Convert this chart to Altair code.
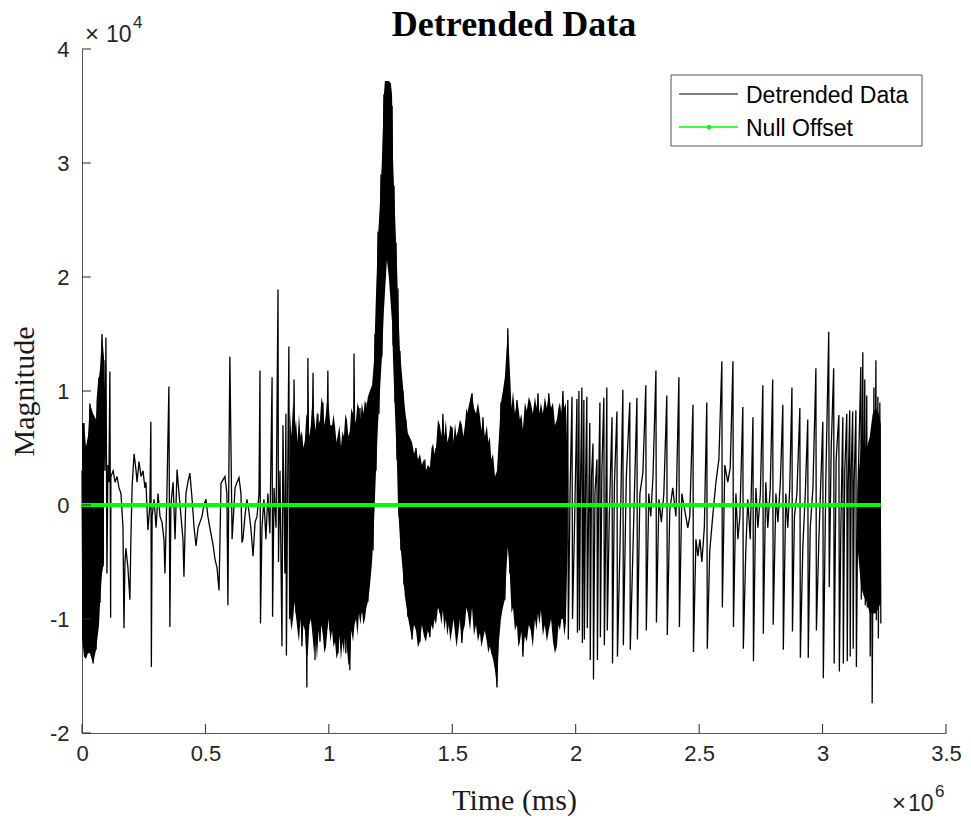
import altair as alt
import pandas as pd

# ---------------- data (time in units of 1e6 ms, magnitude in units of 1e4) ----------------
trace_seg1 = [
    [0.000, 0.3], [0.004, -1.16], [0.008, 0.72], [0.012, -1.33], [0.016, 0.51], [0.024, -1.2],
    [0.032, 0.89], [0.036, -1.3], [0.041, 0.8], [0.045, -1.39], [0.053, 0.7], [0.057, -1.27],
    [0.061, 0.9], [0.069, 1.12], [0.073, -0.86], [0.081, 1.5], [0.085, -0.54], [0.089, 1.27],
    [0.093, 0.3], [0.097, 1.47], [0.101, -0.6], [0.105, 0.35], [0.109, 0.2], [0.113, 1.17],
    [0.116, -0.99], [0.117, 0.25], [0.126, 0.3], [0.134, 0.2], [0.142, 0.25], [0.150, 0.15],
    [0.158, 0.1], [0.166, -0.2], [0.170, -1.08], [0.174, -0.5], [0.178, -0.38], [0.186, -0.55],
    [0.194, -0.83], [0.198, -0.3], [0.203, 0.16], [0.211, 0.45], [0.219, 0.3], [0.223, 0.2],
    [0.231, 0.38], [0.239, 0.25], [0.247, 0.3], [0.255, 0.15], [0.259, 0.2], [0.267, -0.22],
    [0.275, 0.0], [0.279, 0.73], [0.281, -1.42], [0.284, -0.1], [0.292, 0.05], [0.300, -0.2],
    [0.308, 0.1], [0.316, -0.1], [0.324, -0.15], [0.332, -0.3], [0.336, -0.6], [0.344, 0.1],
    [0.352, 1.04], [0.356, -1.07], [0.360, 0.0], [0.369, 0.2], [0.377, -0.3], [0.385, 0.31],
    [0.393, 0.1], [0.401, -0.1], [0.409, -0.3], [0.413, -0.63], [0.421, 0.1], [0.429, 0.2],
    [0.437, 0.28], [0.446, 0.05], [0.454, -0.2], [0.462, -0.36], [0.470, -0.2], [0.478, -0.15],
    [0.486, -0.1], [0.494, 0.0], [0.502, 0.05], [0.510, -0.1], [0.518, -0.2], [0.531, -0.35],
    [0.539, -0.48], [0.547, -0.55], [0.555, -0.75], [0.559, -0.3], [0.563, 0.19], [0.571, 0.22],
    [0.579, 0.25], [0.587, 0.1], [0.591, -0.88], [0.595, 0.3], [0.599, 1.3], [0.603, 0.6],
    [0.608, -0.3], [0.616, 0.0], [0.620, 0.15], [0.628, 0.2], [0.636, 0.24], [0.644, 0.1],
    [0.648, -0.33], [0.652, -0.3], [0.660, -0.1], [0.668, 0.05], [0.676, -0.05], [0.684, -0.2],
    [0.693, -0.45], [0.701, -0.15], [0.709, -0.1], [0.717, 0.1], [0.721, 1.18], [0.723, -1.04],
    [0.729, -0.2], [0.737, 0.05], [0.745, -0.3], [0.753, 0.1], [0.761, -0.25], [0.770, 1.12],
    [0.772, -0.98], [0.778, 0.15], [0.786, -0.2], [0.794, 1.89], [0.796, -0.5], [0.802, 0.3],
    [0.810, -1.24], [0.814, 0.7], [0.822, -0.6], [0.826, 0.8], [0.828, -1.32], [0.834, 0.4],
    [0.838, 1.39], [0.841, -1.0],
]

trace_seg2 = [
    [0.847, 0.6], [0.851, -0.9], [0.859, 1.1], [0.867, -0.95], [0.883, 0.6], [0.891, -1.24],
    [0.903, 0.5], [0.911, -1.6], [0.915, 1.29], [0.923, -1.0], [0.936, 1.16], [0.944, -1.36],
    [0.956, 0.8], [0.964, -1.2], [0.976, 0.9], [0.984, -1.25], [0.996, 1.18], [1.004, -1.1],
    [1.021, 0.6], [1.037, -1.3], [1.053, 0.5], [1.069, -1.3], [1.077, 0.6], [1.085, -1.45],
    [1.094, 0.8], [1.098, -0.5], [1.102, 1.33], [1.110, -1.0], [1.126, 0.85], [1.134, -0.95],
    [1.150, 0.9], [1.158, -0.85], [1.175, 1.0], [1.179, -0.4], [1.187, 1.5], [1.191, 0.3],
    [1.199, 2.4], [1.203, 0.8], [1.211, 2.9], [1.215, 1.3], [1.223, 3.6], [1.227, 2.0],
    [1.231, 3.72], [1.235, 2.3], [1.239, 3.72], [1.243, 2.1], [1.247, 3.7], [1.251, 2.0],
    [1.256, 3.5], [1.260, 1.4], [1.264, 2.8], [1.268, 0.9], [1.272, 2.3], [1.276, 0.4],
    [1.280, 1.9], [1.284, -0.1], [1.288, 1.35], [1.292, -0.4], [1.300, 1.0], [1.304, -0.7],
    [1.312, 0.75], [1.320, -0.98], [1.328, 0.55], [1.337, -1.18], [1.353, 0.5], [1.369, -1.2],
    [1.389, 0.4], [1.409, -1.16], [1.434, 0.5], [1.450, -0.95], [1.462, 0.8], [1.474, -1.0],
    [1.499, 0.68], [1.539, -1.21], [1.563, 0.8], [1.580, 0.98], [1.596, -1.05], [1.624, 0.77],
    [1.652, -1.24], [1.673, 0.25], [1.681, -1.6], [1.697, 0.9], [1.713, -0.83], [1.725, 1.55],
    [1.733, -0.6], [1.762, 0.92], [1.786, -1.33], [1.802, 0.83], [1.835, -1.0], [1.847, 0.98],
    [1.875, -1.05], [1.891, 0.98], [1.916, -1.24], [1.948, 1.0], [1.956, -1.04], [1.964, 0.3],
]

trace_seg3 = [
    [1.968, 0.92], [1.970, -1.18], [1.977, 0.1], [1.985, 0.95], [1.987, -1.0], [1.995, -0.2],
    [2.005, 0.93], [2.007, -1.12], [2.011, 0.2], [2.013, 1.0], [2.015, -1.1], [2.019, 0.1],
    [2.025, 1.03], [2.027, -1.21], [2.030, -0.2], [2.033, 0.92], [2.035, -1.18], [2.040, 0.2],
    [2.045, 0.95], [2.047, -1.08], [2.052, -0.1], [2.057, 0.72], [2.059, -1.36], [2.064, 0.25],
    [2.070, 0.54], [2.072, -1.53], [2.078, 0.1], [2.086, 0.4], [2.088, -1.36], [2.093, 0.2],
    [2.098, 0.9], [2.100, -1.16], [2.106, 0.3], [2.114, 0.94], [2.116, -1.23], [2.121, -0.3],
    [2.126, 1.03], [2.128, -1.1], [2.136, -0.1], [2.147, 0.77], [2.149, -1.39], [2.157, 0.2],
    [2.167, 0.82], [2.169, -1.33], [2.179, -0.4], [2.191, 1.01], [2.193, -1.23], [2.205, 0.25],
    [2.219, 0.9], [2.221, -1.27], [2.233, -0.3], [2.248, 0.94], [2.250, -1.18], [2.260, 0.1],
    [2.272, 0.28], [2.284, 1.05], [2.286, -1.1], [2.296, 0.1], [2.304, -0.1], [2.313, 0.25],
    [2.325, 1.18], [2.327, -1.03], [2.337, 0.05], [2.347, -0.15], [2.357, 0.1], [2.369, 0.96],
    [2.371, -1.14], [2.381, -0.05], [2.393, 0.15], [2.406, -0.1], [2.418, 1.12], [2.420, -1.07],
    [2.430, 0.1], [2.442, -0.05], [2.454, -0.2], [2.462, -0.1], [2.475, 0.88], [2.477, -1.29],
    [2.487, -0.3], [2.495, -0.45], [2.503, -0.3], [2.511, -0.5], [2.521, -0.2], [2.531, 0.9],
    [2.533, -1.26], [2.543, -0.4], [2.555, -0.1], [2.568, 0.2], [2.580, 0.4], [2.592, 1.26],
    [2.594, -0.9], [2.604, 0.35], [2.616, 0.2], [2.626, 0.33], [2.637, 1.26], [2.639, -1.07],
    [2.649, 0.1], [2.657, -0.3], [2.665, -0.1], [2.677, 0.86], [2.679, -1.26], [2.689, -0.4],
    [2.697, 0.05], [2.707, -0.3], [2.718, 0.77], [2.720, -1.37], [2.730, 0.15], [2.738, -0.2],
    [2.748, 0.1], [2.758, 1.05], [2.760, -1.13], [2.770, 0.2], [2.778, -0.2], [2.788, 0.15],
    [2.798, 1.1], [2.800, -1.05], [2.811, 0.1], [2.819, -0.15], [2.829, 0.2], [2.839, 0.88],
    [2.841, -1.27], [2.851, 0.1], [2.859, -0.2], [2.867, 0.15], [2.876, 1.03], [2.878, -1.11],
    [2.886, -0.1], [2.896, 0.1], [2.908, 0.85], [2.910, -1.34], [2.920, -0.37], [2.930, 0.1],
    [2.940, 0.75], [2.942, -1.34], [2.950, -0.2], [2.961, 0.15], [2.973, 1.2], [2.975, -1.1],
    [2.985, -0.3], [3.001, 0.73], [3.003, -1.52], [3.013, 0.2], [3.025, 1.52], [3.027, -0.72],
    [3.035, 0.5], [3.045, 1.2], [3.047, -1.39], [3.055, 0.4], [3.066, 0.79], [3.068, -1.46],
    [3.074, -0.2], [3.082, 0.77], [3.084, -1.39], [3.090, 0.3], [3.098, 0.8], [3.100, -1.37],
    [3.104, 0.2], [3.110, 0.83], [3.112, -1.33], [3.116, 0.3], [3.122, 0.82], [3.124, -1.26],
    [3.128, 0.2], [3.135, 0.83], [3.137, -1.42], [3.143, 0.1], [3.155, 1.21], [3.157, -0.83],
    [3.163, 1.34], [3.165, -0.77], [3.171, 1.1], [3.173, -0.88], [3.179, 0.96], [3.181, -0.9],
    [3.191, 0.3], [3.193, -1.33], [3.199, 0.5], [3.201, -1.74], [3.208, 1.03], [3.210, -0.95],
    [3.216, 1.27], [3.218, -1.01], [3.224, 0.95], [3.226, -1.17], [3.232, 0.9], [3.236, -1.04],
]

# dense oscillation envelopes: [time, upper, lower]
band_start = [
    [0.000, 0.72, -1.16], [0.008, 0.72, -1.33], [0.016, 0.51, -1.35], [0.024, 0.6, -1.3],
    [0.032, 0.89, -1.3], [0.045, 0.8, -1.39], [0.057, 0.75, -1.27], [0.069, 1.12, -1.05],
    [0.073, 1.2, -0.86], [0.081, 1.5, -0.6], [0.089, 1.3, -0.5],
]
band_middle = [
    [0.842, 0.85, -0.95], [0.848, 0.6, -1.1], [0.855, 0.9, -1.0], [0.861, 0.65, -0.85],
    [0.867, 0.75, -0.98], [0.873, 0.55, -1.1], [0.879, 0.8, -1.2], [0.885, 0.6, -1.0],
    [0.891, 0.65, -1.24], [0.897, 0.5, -1.05], [0.903, 0.57, -1.1], [0.909, 0.8, -1.35],
    [0.915, 0.75, -1.3], [0.921, 0.6, -1.05], [0.927, 0.7, -1.0], [0.934, 0.95, -1.15],
    [0.940, 0.8, -1.3], [0.946, 0.65, -1.15], [0.952, 0.83, -1.36], [0.958, 0.7, -1.1],
    [0.964, 0.75, -1.2], [0.970, 0.95, -1.05], [0.976, 0.88, -1.15], [0.982, 0.7, -1.3],
    [0.988, 0.8, -1.25], [0.994, 0.95, -1.1], [1.000, 0.85, -1.0], [1.006, 0.7, -1.2],
    [1.013, 0.7, -1.1], [1.019, 0.8, -1.25], [1.025, 0.69, -1.2], [1.031, 0.55, -1.35],
    [1.037, 0.62, -1.3], [1.043, 0.7, -1.15], [1.049, 0.51, -1.36], [1.055, 0.65, -1.2],
    [1.061, 0.6, -1.3], [1.067, 0.8, -1.1], [1.073, 0.75, -1.25], [1.079, 0.6, -1.4],
    [1.085, 0.65, -1.4], [1.091, 0.85, -1.1], [1.098, 0.8, -1.2], [1.104, 0.7, -1.05],
    [1.110, 0.75, -1.0], [1.116, 0.9, -1.15], [1.122, 0.85, -0.95], [1.128, 0.75, -1.05],
    [1.134, 0.9, -0.92], [1.140, 0.8, -1.05], [1.146, 0.92, -1.0], [1.152, 0.85, -0.9],
    [1.158, 0.95, -0.85], [1.166, 1.0, -0.72],
    [1.175, 1.05, -0.5], [1.183, 1.27, -0.15], [1.191, 1.85, 0.3], [1.199, 2.35, 0.7],
    [1.207, 2.65, 1.0], [1.215, 3.03, 1.3], [1.223, 3.6, 1.7], [1.227, 3.72, 1.85],
    [1.235, 3.72, 2.15], [1.243, 3.72, 2.0], [1.251, 3.7, 1.75], [1.256, 3.6, 1.6],
    [1.260, 3.03, 1.27], [1.268, 2.55, 0.8], [1.276, 2.1, 0.35], [1.280, 1.8, 0.0],
    [1.288, 1.35, -0.3], [1.296, 1.15, -0.5], [1.308, 0.85, -0.8], [1.320, 0.63, -0.98],
    [1.337, 0.55, -1.18], [1.345, 0.45, -1.05], [1.353, 0.5, -1.1], [1.361, 0.4, -1.25],
    [1.369, 0.45, -1.2], [1.377, 0.35, -1.05], [1.385, 0.4, -1.15], [1.393, 0.3, -1.2],
    [1.401, 0.35, -1.1], [1.409, 0.33, -1.16], [1.416, 0.5, -1.05], [1.422, 0.54, -1.1],
    [1.428, 0.45, -1.0], [1.434, 0.5, -1.05], [1.442, 0.75, -0.9], [1.450, 0.7, -0.95],
    [1.456, 0.6, -1.05], [1.462, 0.8, -0.92], [1.468, 0.6, -1.1], [1.474, 0.75, -1.0],
    [1.480, 0.55, -1.15], [1.486, 0.6, -1.05], [1.492, 0.7, -1.2], [1.499, 0.68, -1.1],
    [1.505, 0.55, -1.0], [1.511, 0.72, -1.12], [1.517, 0.6, -1.25], [1.523, 0.65, -1.15],
    [1.531, 0.75, -1.0], [1.539, 0.7, -1.21], [1.545, 0.6, -1.1], [1.551, 0.7, -1.05],
    [1.557, 0.85, -0.9], [1.563, 0.8, -0.95], [1.572, 0.9, -1.1], [1.580, 0.98, -0.9],
    [1.588, 0.85, -1.15], [1.596, 0.8, -1.05], [1.604, 0.9, -1.2], [1.612, 0.78, -1.12],
    [1.618, 0.65, -1.25], [1.624, 0.77, -1.18], [1.632, 0.6, -1.1], [1.640, 0.7, -1.2],
    [1.646, 0.55, -1.3], [1.652, 0.6, -1.24], [1.658, 0.4, -1.3], [1.665, 0.45, -1.35],
    [1.673, 0.25, -1.45], [1.681, 0.3, -1.6], [1.689, 0.6, -1.2],
    [1.697, 0.9, -1.0], [1.705, 1.0, -0.9], [1.713, 1.12, -0.83], [1.721, 1.4, -0.5],
    [1.725, 1.55, -0.37], [1.733, 1.2, -0.6], [1.740, 0.85, -0.95], [1.746, 1.0, -0.9],
    [1.754, 0.8, -1.1], [1.762, 0.92, -1.05], [1.768, 0.85, -1.25], [1.774, 0.75, -1.2],
    [1.780, 0.8, -1.1], [1.786, 0.66, -1.33], [1.794, 0.9, -1.15], [1.802, 0.83, -1.2],
    [1.810, 0.95, -1.05], [1.818, 0.9, -1.1], [1.826, 0.8, -1.25], [1.835, 0.95, -1.0],
    [1.841, 0.85, -1.1], [1.847, 0.98, -0.95], [1.853, 0.8, -1.05], [1.859, 0.9, -0.92],
    [1.867, 0.8, -1.15], [1.875, 0.95, -1.05], [1.883, 0.85, -1.2], [1.891, 0.98, -1.1],
    [1.900, 0.85, -1.0], [1.908, 0.9, -1.2], [1.916, 0.7, -1.3], [1.924, 0.75, -1.24],
    [1.930, 0.85, -1.05], [1.936, 0.9, -1.1], [1.942, 0.8, -1.0], [1.948, 1.0, -1.0],
    [1.954, 0.85, -1.15], [1.960, 0.9, -1.04], [1.968, 0.3, -0.3],
]
band_end = [
    [3.143, 0.2, -0.4], [3.155, 0.5, -0.7], [3.167, 0.55, -0.8], [3.179, 0.5, -0.85],
    [3.191, 0.6, -0.95], [3.203, 0.8, -0.95], [3.216, 0.85, -0.95], [3.228, 0.8, -0.9],
    [3.236, 0.7, -0.85],
]

null_t = [0.0, 3.236]
null_v = [0.0, 0.0]

x_ticks = [0, 0.5, 1, 1.5, 2, 2.5, 3, 3.5]
y_ticks = [-2, -1, 0, 1, 2, 3, 4]

# ---------------- tables ----------------
rows = []
for seg in (trace_seg1, trace_seg2, trace_seg3):
    rows.extend(seg)
df_trace = pd.DataFrame(rows, columns=["t", "v"])
df_trace["i"] = range(len(df_trace))

brows = []
for name, seg in (("a", band_start), ("b", band_middle), ("c", band_end)):
    for t, hi, lo in seg:
        brows.append({"t": t, "v": hi, "lo": lo, "seg": name})
df_band = pd.DataFrame(brows)

df_null = pd.DataFrame({"t": null_t, "v": null_v})
df_xt = pd.DataFrame({"t": x_ticks})
df_yt = pd.DataFrame({"v": y_ticks})
one = pd.DataFrame({"k": [0]})

# ---------------- chart ----------------
W, H = 864, 684
SANS = "Liberation Sans"
SERIF = "Liberation Serif"
AX = "#555555"
xs = alt.Scale(domain=[0, 3.5], nice=False, zero=False)
ys = alt.Scale(domain=[-2, 4], nice=False, zero=False)

x_axis = alt.Axis(
    values=x_ticks, format="~g", tickSize=0, ticks=False, labelPadding=10, labelFlush=False,
    labelFont=SANS, labelFontSize=22, labelColor="#262626", grid=False,
    domain=True, domainColor=AX, domainWidth=1,
    title="Time (ms)", titleFont=SERIF, titleFontSize=30, titleFontWeight="normal",
    titleColor="#1a1a1a", titleX=W / 2, titleY=76, titleBaseline="alphabetic", titleAlign="center",
)
y_axis = alt.Axis(
    values=y_ticks, labelExpr="'' + datum.value", tickSize=0, ticks=False, labelPadding=13,
    labelFlush=False, labelFont=SANS, labelFontSize=22, labelColor="#262626", grid=False,
    domain=True, domainColor=AX, domainWidth=1,
    title="Magnitude", titleFont=SERIF, titleFontSize=30, titleFontWeight="normal",
    titleColor="#1a1a1a", titleX=-49, titleY=H / 2, titleAngle=270,
    titleBaseline="alphabetic", titleAlign="center",
)

X = alt.X("t:Q", scale=xs, axis=x_axis)
Y = alt.Y("v:Q", scale=ys, axis=y_axis)

band = alt.Chart(df_band).mark_area(color="black", interpolate="linear").encode(
    x=X, y=Y, y2="lo:Q", detail="seg:N",
)

trace = alt.Chart(df_trace).mark_line(color="black", strokeWidth=1.3).encode(
    x=X, y=Y, order="i:Q",
)

null_line = alt.Chart(df_null).mark_line(color="#00ff00", strokeWidth=4).encode(x=X, y=Y)

xtick = alt.Chart(df_xt).mark_rule(color="#262626", strokeWidth=1).encode(
    x=X, y=alt.value(H), y2=alt.value(H - 9)
)
ytick = alt.Chart(df_yt).mark_rule(color="#262626", strokeWidth=1).encode(
    y=Y, x=alt.value(0), x2=alt.value(9)
)

# title
title = alt.Chart(one).mark_text(
    text="Detrended Data", font=SERIF, fontSize=36, fontWeight="bold", align="center",
    baseline="alphabetic", color="black"
).encode(x=alt.value(W / 2), y=alt.value(-13))

# legend box (MATLAB style, inside the axes)
leg_box = alt.Chart(one).mark_rect(fill="white", stroke=AX, strokeWidth=1).encode(
    x=alt.value(589), x2=alt.value(840), y=alt.value(26), y2=alt.value(97)
)
leg_l1 = alt.Chart(one).mark_rule(color="black", strokeWidth=1.2).encode(
    x=alt.value(597), x2=alt.value(656), y=alt.value(45)
)
leg_l2 = alt.Chart(one).mark_rule(color="#00ff00", strokeWidth=1.5).encode(
    x=alt.value(597), x2=alt.value(656), y=alt.value(78)
)
leg_pt = alt.Chart(one).mark_point(color="#00ff00", filled=True, size=22, opacity=1).encode(
    x=alt.value(627), y=alt.value(78)
)
leg_t1 = alt.Chart(one).mark_text(
    text="Detrended Data", font=SANS, fontSize=23, align="left", baseline="alphabetic", color="black"
).encode(x=alt.value(664), y=alt.value(54))
leg_t2 = alt.Chart(one).mark_text(
    text="Null Offset", font=SANS, fontSize=23, align="left", baseline="alphabetic", color="black"
).encode(x=alt.value(664), y=alt.value(87))

# axis exponent multipliers (x10^4 on y, x10^6 on x)
def txt(s, x, y, size):
    return alt.Chart(one).mark_text(
        text=s, font=SANS, fontSize=size, align="left", baseline="alphabetic", color="#262626"
    ).encode(x=alt.value(x), y=alt.value(y))

ey_times = txt("×", 3, -7, 24)
ey_ten = txt("10", 24, -7, 23)
ey_exp = txt("4", 51, -21, 17)
ex_times = txt("×", 810, H + 78, 24)
ex_ten = txt("10", 826, H + 78, 23)
ex_exp = txt("6", 853, H + 64, 17)

chart = alt.layer(
    band, trace, null_line, xtick, ytick, title,
    leg_box, leg_l1, leg_l2, leg_pt, leg_t1, leg_t2,
    ey_times, ey_ten, ey_exp, ex_times, ex_ten, ex_exp,
).properties(
    width=W,
    height=H,
    autosize=alt.AutoSizeParams(type="none"),
    padding={"left": 82, "top": 49, "right": 25, "bottom": 86},
).configure_view(stroke=None)

chart.save("out.html", embed_options={"renderer": "svg", "actions": False})
